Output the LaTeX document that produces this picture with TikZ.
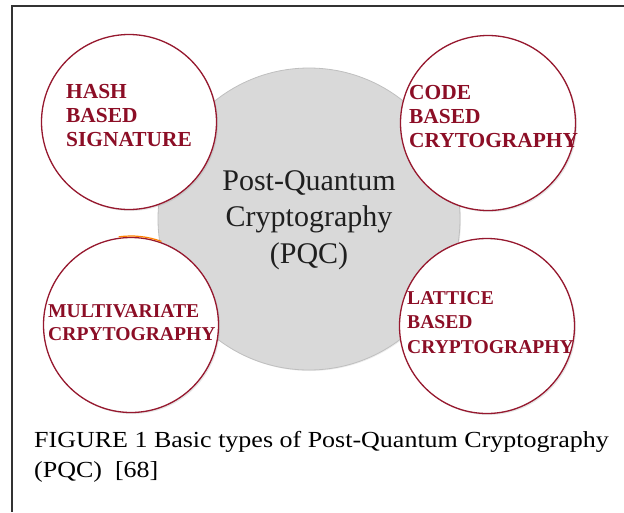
\documentclass[tikz,border=0pt]{standalone}
\usepackage{fontspec}
\setmainfont{Liberation Serif}
\newfontfamily\capfont[FakeStretch=1.13]{Liberation Serif}
\usepackage{xcolor}
\usepackage{tikz}
\usetikzlibrary{shadows}
\definecolor{pqcred}{RGB}{140,14,38}
\definecolor{ringred}{RGB}{150,24,46}

\begin{document}
\begin{tikzpicture}[x=1pt, y=-1pt]
		\useasboundingbox (0,0) rectangle (624,512);
		% frame
		\coordinate (TL) at (12,6);
		\coordinate (TR) at (624,6);
		\coordinate (BL) at (12,512);
		\draw[line width=1.3pt, black!80] (TR) -- (TL) -- (BL);
		% centre disc
		\node[circle, minimum size=302pt, fill=gray!30, draw=gray!50, line width=0.8pt,
			drop shadow={opacity=0.15, shadow xshift=1pt, shadow yshift=-1pt}] (P) at (309,219) {};
		\begin{scope}[every node/.style = {circle, minimum size=175pt, fill=white, draw=ringred, line width=1.3pt,
				drop shadow={opacity=0.2, shadow xshift=1.5pt, shadow yshift=-1.5pt}}]
			\node (H) at (129,122) {};
			\node (C) at (488,123) {};
			\node (M) at (131,325) {};
			\node (L) at (487,326) {};
		\end{scope}
		\draw[orange, line width=1.2pt] (M.center) ++(262:89) arc[start angle=262, end angle=290, radius=89];
		% labels
		\node[anchor=north, inner sep=0, align=center, text=black!88, font=\fontsize{30}{36.5}\selectfont]
			(Ptext) at (309,170) {Post-Quantum\\Cryptography\\(PQC)};
		\begin{scope}[every node/.style = {anchor=north west, inner sep=0, align=left, text=pqcred}]
			\node[font=\bfseries\fontsize{21.4}{24}\selectfont] (Htext) at (66,84) {HASH\\BASED\\SIGNATURE};
			\node[font=\bfseries\fontsize{21.4}{24}\selectfont] (Ctext) at (409,85) {CODE\\BASED\\CRYTOGRAPHY};
			\node[font=\bfseries\fontsize{19.6}{23.5}\selectfont] (Mtext) at (48,304) {MULTIVARIATE\\CRPYTOGRAPHY};
			\node[font=\bfseries\fontsize{19.6}{24.5}\selectfont] (Ltext) at (407,291) {LATTICE\\BASED\\CRYPTOGRAPHY};
		\end{scope}
		% caption
		\node[anchor=north west, inner sep=0, align=left, font=\capfont\fontsize{23}{30}\selectfont]
			(cap) at (34,431) {FIGURE 1 Basic types of Post-Quantum Cryptography\\(PQC)\ \ [68]};
	\end{tikzpicture}
\end{document}
